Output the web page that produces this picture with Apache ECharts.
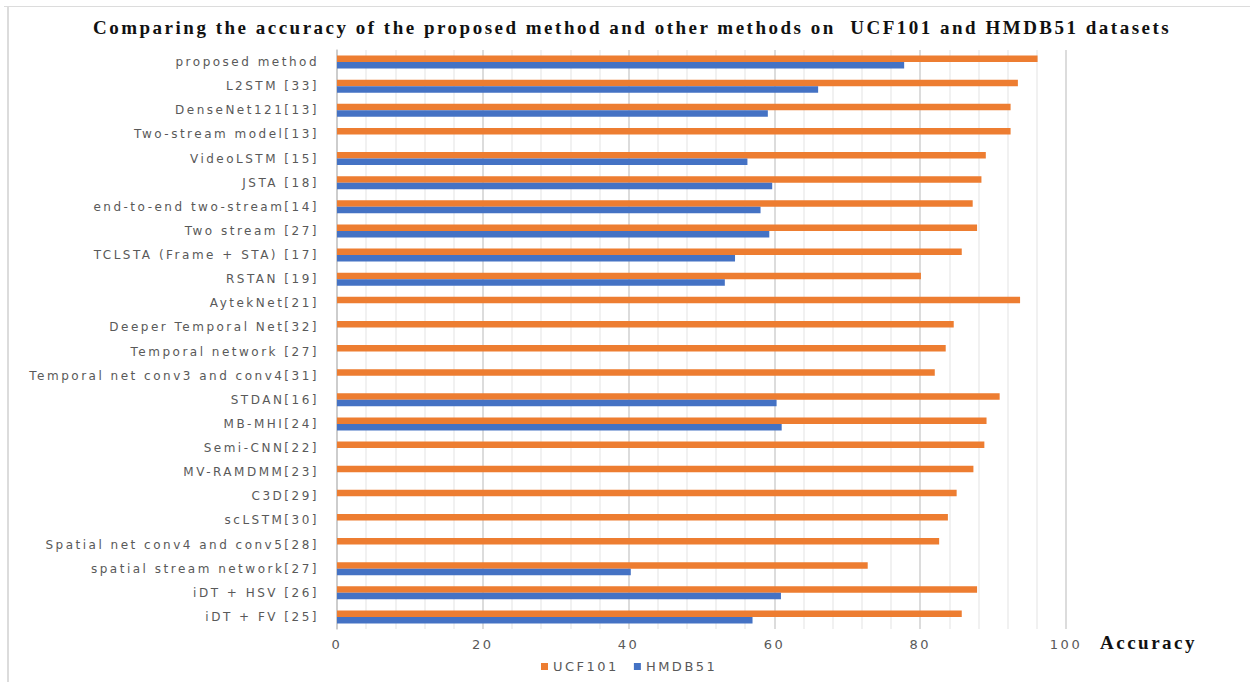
<!DOCTYPE html>
<html>
<head>
<meta charset="utf-8">
<style>
  html, body { margin: 0; padding: 0; background: #ffffff; }
  #chart { width: 1250px; height: 682px; }
  /* wide, airy lettering for every label in the chart */
  #chart svg text { letter-spacing: 2.5px; }
</style>
<script src="https://cdn.jsdelivr.net/npm/echarts@6/dist/echarts.min.js"></script>
</head>
<body>
<div id="chart"></div>
<script>
// Methods, listed from top to bottom
const methods = [
  'proposed method', 'L2STM [33]', 'DenseNet121[13]', 'Two-stream model[13]',
  'VideoLSTM [15]', 'JSTA [18]', 'end-to-end two-stream[14]', 'Two stream [27]',
  'TCLSTA (Frame + STA) [17]', 'RSTAN [19]', 'AytekNet[21]', 'Deeper Temporal Net[32]',
  'Temporal network [27]', 'Temporal net conv3 and conv4[31]', 'STDAN[16]', 'MB-MHI[24]',
  'Semi-CNN[22]', 'MV-RAMDMM[23]', 'C3D[29]', 'scLSTM[30]',
  'Spatial net conv4 and conv5[28]', 'spatial stream network[27]', 'iDT + HSV [26]', 'iDT + FV [25]'
];

// Accuracy (%) on UCF101
const ucf101 = [
  96.1, 93.4, 92.4, 92.4,
  89.0, 88.4, 87.2, 87.8,
  85.7, 80.1, 93.7, 84.6,
  83.5, 82.0, 90.9, 89.1,
  88.8, 87.3, 85.0, 83.8,
  82.6, 72.8, 87.8, 85.7
];

// Accuracy (%) on HMDB51 (null where not reported)
const hmdb51 = [
  77.8, 66.0, 59.1, null,
  56.3, 59.7, 58.1, 59.3,
  54.6, 53.2, null, null,
  null, null, 60.3, 61.0,
  null, null, null, null,
  null, 40.3, 60.9, 57.0
];

const xTicks = [0, 20, 40, 60, 80, 100];

const chart = echarts.init(document.getElementById('chart'), null, { renderer: 'svg' });
const grey = '#595959';
const sans = '"DejaVu Sans", sans-serif';
const serif = '"Liberation Serif", "Times New Roman", serif';

chart.setOption({
  animation: false,
  backgroundColor: '#ffffff',
  title: {
    text: 'Comparing the accuracy of the proposed method and other methods on  UCF101 and HMDB51 datasets',
    left: 88,
    top: 13,
    textStyle: { fontFamily: serif, fontWeight: 'bold', fontSize: 19, color: '#111111' }
  },
  legend: {
    data: ['UCF101', 'HMDB51'],
    left: 536,
    top: 655,
    itemWidth: 7,
    itemHeight: 7,
    itemGap: 30,
    icon: 'rect',
    textStyle: { color: grey, fontSize: 13, fontFamily: sans }
  },
  grid: { left: 337, right: 184, top: 50, bottom: 53, containLabel: false },
  xAxis: {
    type: 'value',
    min: xTicks[0],
    max: xTicks[xTicks.length - 1],
    interval: 20,
    name: 'Accuracy',
    nameLocation: 'end',
    nameGap: 34,
    nameTextStyle: {
      fontFamily: serif,
      fontWeight: 'bold',
      fontSize: 19,
      color: '#111111',
      align: 'left',
      verticalAlign: 'top',
      padding: [4, 0, 0, 0]
    },
    axisLine: { show: false },
    axisTick: { show: false },
    axisLabel: { color: grey, fontSize: 13, margin: 9, fontFamily: sans },
    splitLine: { show: true, lineStyle: { color: '#d0d0d0', width: 1.5 } },
    minorTick: { show: false, splitNumber: 5 },
    minorSplitLine: { show: true, lineStyle: { color: '#ececec', width: 1.5 } }
  },
  yAxis: {
    type: 'category',
    data: methods,
    inverse: true,
    axisLine: { show: true, lineStyle: { color: '#c8c8c8', width: 1.5 } },
    axisTick: { show: false },
    axisLabel: { color: grey, fontSize: 12, margin: 18, fontFamily: sans }
  },
  series: [
    {
      name: 'UCF101',
      type: 'bar',
      data: ucf101,
      barWidth: 6.5,
      barGap: '0%',
      itemStyle: { color: '#ED7D31' }
    },
    {
      name: 'HMDB51',
      type: 'bar',
      data: hmdb51,
      barWidth: 6.5,
      barGap: '0%',
      itemStyle: { color: '#4472C4' }
    }
  ],
  graphic: [
    { type: 'line', shape: { x1: 4, y1: 6.5, x2: 1250, y2: 6.5 }, style: { stroke: '#dcdcdc', lineWidth: 1 } },
    { type: 'line', shape: { x1: 8, y1: 6, x2: 8, y2: 682 }, style: { stroke: '#dcdcdc', lineWidth: 2 } }
  ]
});
</script>
</body>
</html>
